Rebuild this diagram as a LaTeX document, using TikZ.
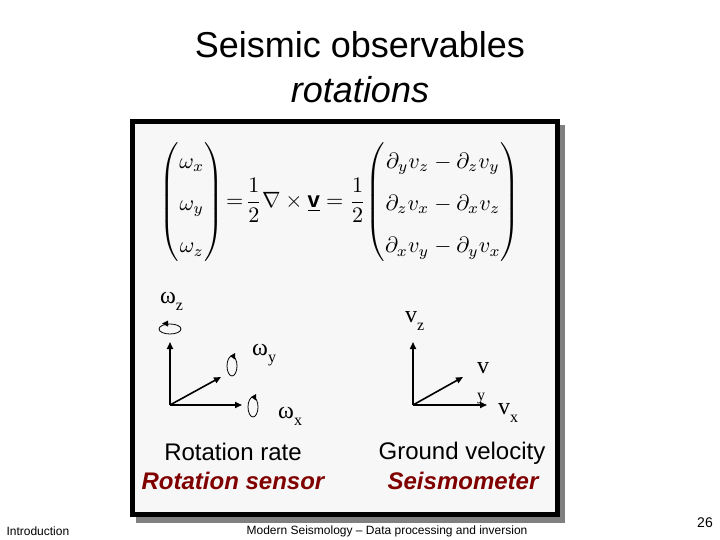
\documentclass[tikz,border=0pt]{standalone}
\usepackage{amsmath}
\usepackage{graphicx}
\usepackage{fontspec}
\setmainfont{Liberation Sans}
\newfontfamily\timesrm{Liberation Serif}
\usepackage{tikz}
\usetikzlibrary{arrows.meta}
\definecolor{panelfill}{HTML}{F7F7F7}
\definecolor{shadowgray}{HTML}{808080}
\definecolor{sensorred}{HTML}{800000}
\newcommand{\lowsub}[1]{\raisebox{-0.3em}{\fontsize{16}{18}\selectfont #1}}

\begin{document}
\begin{tikzpicture}[x=1pt,y=-1pt,
    axis/.style={line width=1.6pt,-{Triangle[length=7pt,width=6pt]}},
    spin/.style={line width=0.8pt},
    symlabel/.style={anchor=west,inner sep=0pt,font=\timesrm\fontsize{24}{28}\selectfont},
    caption/.style={font=\fontsize{24}{28}\selectfont}]
  \useasboundingbox (0,0) rectangle (720,540);
  % title
  \node (title) at (360,45) {\fontsize{36}{40}\selectfont Seismic observables};
  \node (subtitle) at (360,90) {\fontsize{36}{40}\selectfont\itshape rotations};
  % panel and its shadow
  \fill[shadowgray] (136,125) rectangle (565,523);
  \draw[line width=5pt,fill=panelfill] (132.5,121.5) rectangle (557.5,514.5);
  \node[inner sep=0pt] (curl) at (340,202) {\renewcommand{\arraystretch}{1.6}%
    \resizebox{360pt}{!}{$\begin{pmatrix}\omega_x\\ \omega_y\\ \omega_z\end{pmatrix}
    \!=\!\dfrac{1}{2}\nabla\times\underline{\mathbf{v}}
    =\dfrac{1}{2}\!\begin{pmatrix}\partial_y v_z-\partial_z v_y\\ \partial_z v_x-\partial_x v_z\\ \partial_x v_y-\partial_y v_x\end{pmatrix}$}};

  % rotation axes
  \coordinate (rotO) at (170,405);
  \coordinate (rotZ) at (170,342);
  \coordinate (rotY) at (221,377);
  \coordinate (rotX) at (242,405);
  \draw[axis] (rotO) -- (rotZ);
  \draw[axis] (rotO) -- (rotY);
  \draw[axis] (rotO) -- (rotX);
  \draw[spin] (170,329) ellipse [x radius=11pt, y radius=5pt];
  \fill (162,323.5) -- (168,320.5) -- (168,326.5) -- cycle;
  \draw[spin] (232,366) ellipse [x radius=5pt, y radius=10pt];
  \fill (230,356) -- (235,353) -- (235,359.5) -- cycle;
  \draw[spin] (253,407) ellipse [x radius=5pt, y radius=10pt];
  \fill (251,397) -- (256,394) -- (256,400.5) -- cycle;
  \node[symlabel] (omz) at (160,301) {ω\lowsub{z}};
  \node[symlabel] (omy) at (252,355) {ω\lowsub{y}};
  \node[symlabel] (omx) at (278,416) {ω\lowsub{x}};

  % velocity axes
  \coordinate (velO) at (413,405);
  \coordinate (velZ) at (413,342);
  \coordinate (velY) at (463,377);
  \coordinate (velX) at (487,405);
  \draw[axis] (velO) -- (velZ);
  \draw[axis] (velO) -- (velY);
  \draw[axis] (velO) -- (velX);
  \node[symlabel] (vz) at (405,321) {v\lowsub{z}};
  \node[symlabel] (vy) at (477,368) {v};
  \node[symlabel,font=\timesrm\fontsize{16}{18}\selectfont] (vysub) at (477,399) {y};
  \node[symlabel] (vx) at (498,413) {v\lowsub{x}};

  % captions
  \node[caption] (raterate) at (233,452) {Rotation rate};
  \node[caption,text=sensorred] (ratesensor) at (233,481) {\bfseries\itshape Rotation sensor};
  \node[caption] (groundvel) at (462,453) {Ground velocity};
  \node[caption,text=sensorred] (seismo) at (463,481) {\bfseries\itshape Seismometer};

  % footer
  \node[anchor=west,font=\fontsize{12}{14}\selectfont] (section) at (3,531) {Introduction};
  \node[font=\fontsize{12}{14}\selectfont] (course) at (387,531) {Modern Seismology -- Data processing and inversion};
  \node[font=\fontsize{14}{16}\selectfont] (page) at (705,523) {26};
\end{tikzpicture}
\end{document}
